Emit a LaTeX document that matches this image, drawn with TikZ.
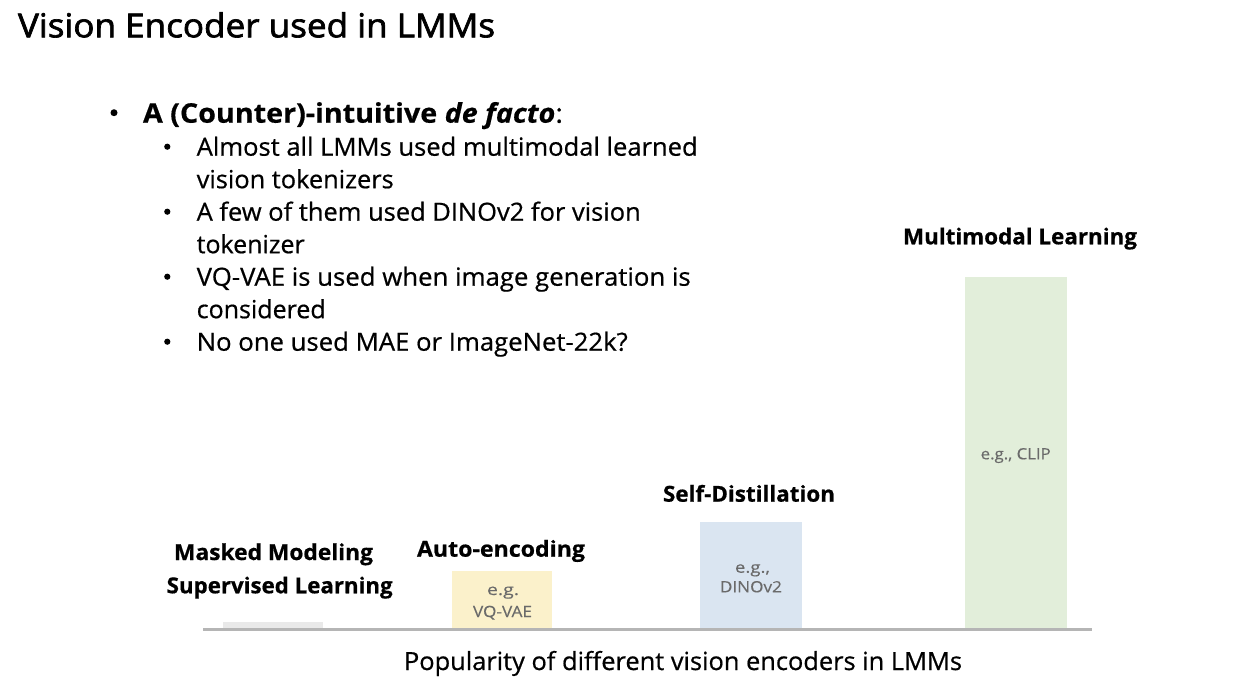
\documentclass[tikz,border=0pt]{standalone}
\usepackage{fontspec}
\setmainfont{Open Sans}
\usepackage{graphicx}
\newcommand{\fitw}[2]{\resizebox{#1pt}{\height}{#2}}
\definecolor{axisgray}{HTML}{B5B5B5}
\definecolor{bargray}{HTML}{E9E9E9}
\definecolor{baryellow}{HTML}{FBF1CB}
\definecolor{barblue}{HTML}{DAE5F1}
\definecolor{bargreen}{HTML}{E2EEDA}
\definecolor{notegray}{HTML}{6A6A6A}
\begin{document}
\begin{tikzpicture}[x=1pt,y=-1pt,
  txt/.style={inner sep=0pt, outer sep=0pt, anchor=base west},
  ctxt/.style={inner sep=0pt, outer sep=0pt, anchor=base},
  titlefont/.style={font=\fontsize{33}{40}\selectfont\addfontfeatures{FakeBold=2}},
  headfont/.style={font=\fontsize{27}{32}\selectfont\addfontfeatures{FakeBold=0.5}},
  bodyfont/.style={font=\fontsize{25}{30}\selectfont\addfontfeatures{FakeBold=0.6}},
  labelfont/.style={font=\fontsize{22}{26}\selectfont\bfseries\addfontfeatures{FakeBold=0.6}},
  notefont/.style={font=\fontsize{15.5}{18}\selectfont\addfontfeatures{FakeBold=0.3}, text=notegray},
  bulletdot/.style={circle, fill=black, inner sep=0pt},
  bar/.style={rectangle, inner sep=0pt, outer sep=0pt, anchor=north west}]
\useasboundingbox[fill=white] (0,0) rectangle (1244,682);

% title
\node[txt, titlefont] (title) at (18,37.3) {\fitw{477}{Vision Encoder used in LMMs}};

% heading bullet
\node[bulletdot, minimum size=7pt] (b0) at (114,112.7) {};
\node[txt, headfont] (head) at (143,122.7) {\fitw{420}{\textbf{A (Counter)-intuitive \textit{de facto}}:}};

% sub bullets
\node[bulletdot, minimum size=6.2pt] (b1) at (167.3,146.7) {};
\node[bulletdot, minimum size=6.2pt] (b2) at (167.3,211.7) {};
\node[bulletdot, minimum size=6.2pt] (b3) at (167.3,276.7) {};
\node[bulletdot, minimum size=6.2pt] (b4) at (167.3,341.7) {};

\node[txt, bodyfont] (l1) at (196.7,155.7) {\fitw{501}{Almost all LMMs used multimodal learned}};
\node[txt, bodyfont] (l2) at (196.7,188.2) {\fitw{197}{vision tokenizers}};
\node[txt, bodyfont] (l3) at (196.7,220.7) {\fitw{444}{A few of them used DINOv2 for vision}};
\node[txt, bodyfont] (l4) at (196.7,253.2) {\fitw{108}{tokenizer}};
\node[txt, bodyfont] (l5) at (196.7,285.7) {\fitw{494}{VQ-VAE is used when image generation is}};
\node[txt, bodyfont] (l6) at (196.7,318.2) {\fitw{129}{considered}};
\node[txt, bodyfont] (l7) at (196.7,350.7) {\fitw{431}{No one used MAE or ImageNet-22k?}};

% bars
\node[bar, fill=bargray, minimum width=100pt, minimum height=7.8pt] (bmask) at (223,621.7) {};
\node[bar, fill=baryellow, minimum width=100.3pt, minimum height=58.8pt] (bvq) at (451.7,570.7) {};
\node[bar, fill=barblue, minimum width=101.7pt, minimum height=107.2pt] (bdino) at (700,522.3) {};
\node[bar, fill=bargreen, minimum width=101.7pt, minimum height=352.8pt] (bclip) at (965,276.7) {};

% axis
\coordinate (axl) at (203,629.5);
\coordinate (axr) at (1091.7,629.5);
\draw[axisgray, line width=3.5pt] (axl) -- (axr);

% bar labels
\node[txt, labelfont] (lmask) at (174,560) {\fitw{199}{Masked Modeling}};
\node[txt, labelfont] (lsup) at (166.7,593.3) {\fitw{226}{Supervised Learning}};
\node[txt, labelfont] (lauto) at (417,556.7) {\fitw{168}{Auto-encoding}};
\node[txt, labelfont] (lself) at (663,501.7) {\fitw{172}{Self-Distillation}};
\node[txt, labelfont] (lmulti) at (903,244.3) {\fitw{234}{Multimodal Learning}};

% notes in bars
\node[ctxt, notefont] (n1a) at (503,595) {\fitw{32}{e.g.}};
\node[ctxt, notefont] (n1b) at (502.5,617) {\fitw{59}{VQ-VAE}};
\node[ctxt, notefont] (n2a) at (752.5,572.7) {\fitw{35}{e.g.,}};
\node[ctxt, notefont] (n2b) at (750.9,592.3) {\fitw{62}{DINOv2}};
\node[ctxt, notefont] (n3) at (1015.7,459.3) {\fitw{70}{e.g., CLIP}};

% caption
\node[txt, bodyfont] (cap) at (404,670) {\fitw{558}{Popularity of different vision encoders in LMMs}};
\end{tikzpicture}
\end{document}
